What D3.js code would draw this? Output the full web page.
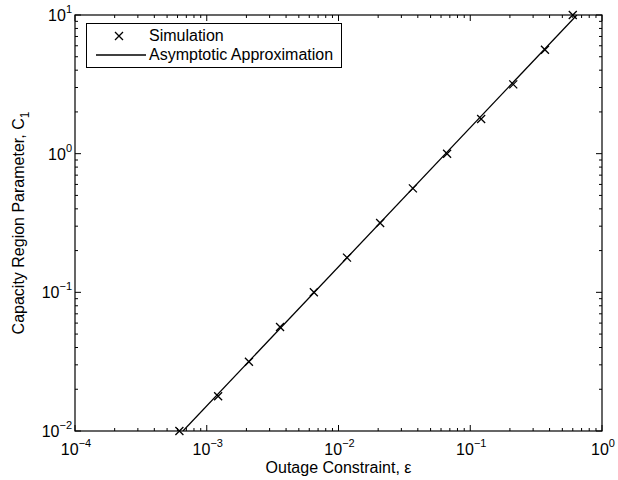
<!DOCTYPE html>
<meta charset="utf-8">
<head>
  <title>Capacity region parameter vs outage constraint</title>
</head>

<style>
body { margin: 0; background: white; }
text {
  font-family: "Liberation Sans", Arial, Helvetica, sans-serif;
  fill: black;
  font-size: 16px;
}
</style>

<body>
  <svg width="618" height="480"></svg>

  <script src="https://cdnjs.cloudflare.com/ajax/libs/d3/7.8.5/d3.min.js"></script>
  <script>
// simulation points
var simEps = [6.2e-4, 1.22e-3, 2.09e-3, 3.6e-3, 6.5e-3, 0.0116, 0.0207, 0.0367, 0.0667, 0.121, 0.212, 0.369, 0.600];
var simC   = [0.01, 0.0178, 0.0316, 0.0562, 0.1, 0.178, 0.316, 0.562, 1.0, 1.78, 3.16, 5.62, 10];

// asymptotic approximation (straight line in log-log)
var lineEps = [6.6e-4, 0.645];
var lineC   = [0.01, 10];

var xTickExp = [-4, -3, -2, -1, 0];
var yTickExp = [-2, -1, 0, 1];

var legendLabels = ['Simulation', 'Asymptotic Approximation'];

// plot box (window.top is read-only, so no "top" here)
var pLeft = 75, pRight = 602, pTop = 15, pBottom = 431;

var svg = d3.select('svg');

var x = d3.scaleLog().domain([1e-4, 1]).range([pLeft, pRight]);
var y = d3.scaleLog().domain([1e-2, 10]).range([pBottom, pTop]);

// minor + major ticks, pointing inwards on all four sides
function logTicks(lo, hi) {
  var t = [];
  for (var e = lo; e < hi; e++) {
    for (var m = 1; m < 10; m++) t.push({v: m * Math.pow(10, e), major: m == 1});
  }
  t.push({v: Math.pow(10, hi), major: true});
  return t;
}

var xt = logTicks(-4, 0), yt = logTicks(-2, 1);
var ticks = svg.append('g').attr('stroke', 'black').attr('stroke-width', 1);

ticks.selectAll('.xb').data(xt).enter().append('line')
  .attr('x1', function(d) { return x(d.v); }).attr('x2', function(d) { return x(d.v); })
  .attr('y1', pBottom).attr('y2', function(d) { return pBottom - (d.major ? 6 : 3); });
ticks.selectAll('.xt').data(xt).enter().append('line')
  .attr('x1', function(d) { return x(d.v); }).attr('x2', function(d) { return x(d.v); })
  .attr('y1', pTop).attr('y2', function(d) { return pTop + (d.major ? 6 : 3); });
ticks.selectAll('.yl').data(yt).enter().append('line')
  .attr('y1', function(d) { return y(d.v); }).attr('y2', function(d) { return y(d.v); })
  .attr('x1', pLeft).attr('x2', function(d) { return pLeft + (d.major ? 6 : 3); });
ticks.selectAll('.yr').data(yt).enter().append('line')
  .attr('y1', function(d) { return y(d.v); }).attr('y2', function(d) { return y(d.v); })
  .attr('x1', pRight).attr('x2', function(d) { return pRight - (d.major ? 6 : 3); });

svg.append('rect')
  .attr('x', pLeft).attr('y', pTop)
  .attr('width', pRight - pLeft).attr('height', pBottom - pTop)
  .attr('fill', 'none').attr('stroke', 'black').attr('stroke-width', 1.2);

// tick labels as 10^n
function powLabel(sel, e) {
  sel.append('tspan').text('10');
  sel.append('tspan').attr('dy', -8).style('font-size', '11px')
    .text(e < 0 ? '\u2212' + (-e) : e);
}

xTickExp.forEach(function(e) {
  var t = svg.append('text')
    .attr('x', x(Math.pow(10, e)) + 1).attr('y', pBottom + 24)
    .attr('text-anchor', 'middle');
  powLabel(t, e);
});

yTickExp.forEach(function(e) {
  var t = svg.append('text')
    .attr('x', pLeft - 3).attr('y', y(Math.pow(10, e)) + 6)
    .attr('text-anchor', 'end');
  powLabel(t, e);
});

// axis labels
svg.append('text')
  .attr('x', (pLeft + pRight) / 2).attr('y', 473)
  .attr('text-anchor', 'middle')
  .text('Outage Constraint, \u03b5');

var yl = svg.append('text')
  .attr('transform', 'translate(24,' + (pTop + pBottom) / 2 + ') rotate(-90)')
  .attr('text-anchor', 'middle');
yl.append('tspan').text('Capacity Region Parameter, C');
yl.append('tspan').attr('dy', 5).style('font-size', '12px').text('1');

// clip path for the line
svg.append('clipPath').attr('id', 'clip')
  .append('rect').attr('x', pLeft).attr('y', pTop)
  .attr('width', pRight - pLeft).attr('height', pBottom - pTop);

var lineData = lineEps.map(function(e, i) { return [e, lineC[i]]; });
svg.append('path')
  .datum(lineData)
  .attr('clip-path', 'url(#clip)')
  .attr('fill', 'none').attr('stroke', 'black').attr('stroke-width', 1.3)
  .attr('d', d3.line().x(function(d) { return x(d[0]); }).y(function(d) { return y(d[1]); }));

var cross = 'M-4,-4L4,4M-4,4L4,-4';
svg.selectAll('.sim')
  .data(simEps.map(function(e, i) { return [e, simC[i]]; }))
  .enter().append('path')
  .attr('transform', function(d) { return 'translate(' + x(d[0]) + ',' + y(d[1]) + ')'; })
  .attr('d', cross)
  .attr('fill', 'none').attr('stroke', 'black').attr('stroke-width', 1.3);

// legend
var lg = svg.append('g');
lg.append('rect')
  .attr('x', 86.5).attr('y', 23.5).attr('width', 255).attr('height', 44)
  .attr('fill', 'white').attr('stroke', 'black').attr('stroke-width', 1);
lg.append('path')
  .attr('transform', 'translate(119,36)')
  .attr('d', cross)
  .attr('fill', 'none').attr('stroke', 'black').attr('stroke-width', 1.3);
lg.append('line')
  .attr('x1', 96).attr('x2', 146).attr('y1', 55).attr('y2', 55)
  .attr('stroke', 'black').attr('stroke-width', 1.3);
lg.selectAll('.lt').data(legendLabels).enter().append('text')
  .attr('x', 149).attr('y', function(d, i) { return 41 + i * 19; })
  .text(function(d) { return d; });

  </script>
</body>
</html>
